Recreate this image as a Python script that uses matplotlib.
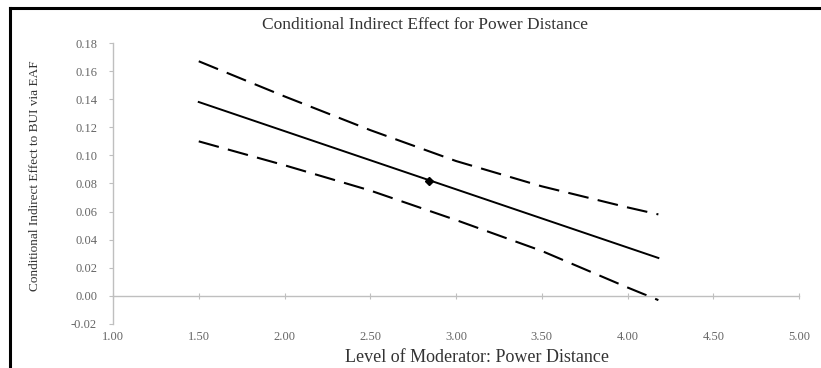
import matplotlib
matplotlib.use('Agg')
import matplotlib.pyplot as plt
from matplotlib.lines import Line2D

# data
moderator = [1.5, 2.0, 2.5, 3.0, 3.5, 4.0, 4.18]
upper_ci = [0.167, 0.142, 0.118, 0.096, 0.078, 0.063, 0.058]
lower_ci = [0.110, 0.093, 0.075, 0.054, 0.032, 0.006, -0.003]
effect_x = [1.5, 4.18]
effect_y = [0.138, 0.027]
point_x = [2.84]
point_y = [0.082]
xticks = [1.0, 1.5, 2.0, 2.5, 3.0, 3.5, 4.0, 4.5, 5.0]
yticks = [-0.02, 0.0, 0.02, 0.04, 0.06, 0.08, 0.10, 0.12, 0.14, 0.16, 0.18]

plt.rcParams['font.family'] = ['Liberation Serif', 'DejaVu Serif']
W, H = 821, 368
fig = plt.figure(figsize=(W/100, H/100), dpi=100)
ax = fig.add_axes([113/W, 1-324/H, (799-113)/W, (324-43)/H])

ax.plot(moderator, upper_ci, color='black', lw=1.5, ls=(0, (10, 4.5)))
ax.plot(moderator, lower_ci, color='black', lw=1.5, ls=(0, (10, 4.5)))
ax.plot(effect_x, effect_y, color='black', lw=1.4)
ax.plot(point_x, point_y, 'D', color='black', markersize=4.5)

ax.set_xlim(1.0, 5.0)
ax.set_ylim(-0.02, 0.18)
grey = '#BFBFBF'
for s in ['top', 'right']:
    ax.spines[s].set_visible(False)
ax.spines['left'].set_color(grey)
ax.spines['bottom'].set_color(grey)
ax.spines['bottom'].set_position(('data', 0))
ax.spines['left'].set_linewidth(1.0)
ax.spines['bottom'].set_linewidth(1.0)

ax.set_yticks(yticks)
ax.set_yticklabels(['%.2f' % v for v in yticks])
ax.tick_params(axis='y', direction='out', length=3, color=grey, labelsize=9,
               labelcolor='#666666', pad=8.5)
ax.set_xticks(xticks)
ax.set_xticklabels([])
ax.tick_params(axis='x', direction='inout', length=4, color=grey)

# tick labels sit below the plot, not on the zero line
sec = ax.secondary_xaxis(0.0)
sec.set_xticks(xticks)
sec.set_xticklabels(['%.2f' % v for v in xticks])
sec.spines['bottom'].set_visible(False)
sec.tick_params(length=0, labelsize=9, labelcolor='#666666', pad=5)

fig.text(425/W, 1-25/H, 'Conditional Indirect Effect for Power Distance',
         ha='center', va='center', fontsize=12.5, color='#333333')
fig.text(477/W, 1-357/H, 'Level of Moderator: Power Distance',
         ha='center', va='center', fontsize=13, color='#333333')
fig.text(35/W, 1-176/H, 'Conditional Indirect Effect to BUI via EAF',
         ha='center', va='center', rotation=90, fontsize=9.5, color='#333333')

# chart frame
fig.add_artist(Line2D([9.5/W, 9.5/W], [0, 1-8/H], transform=fig.transFigure,
                      color='black', lw=2.2))
fig.add_artist(Line2D([9.5/W, 1], [1-8/H, 1-8/H], transform=fig.transFigure,
                      color='black', lw=2.2))

fig.savefig('out.png', dpi=100)
